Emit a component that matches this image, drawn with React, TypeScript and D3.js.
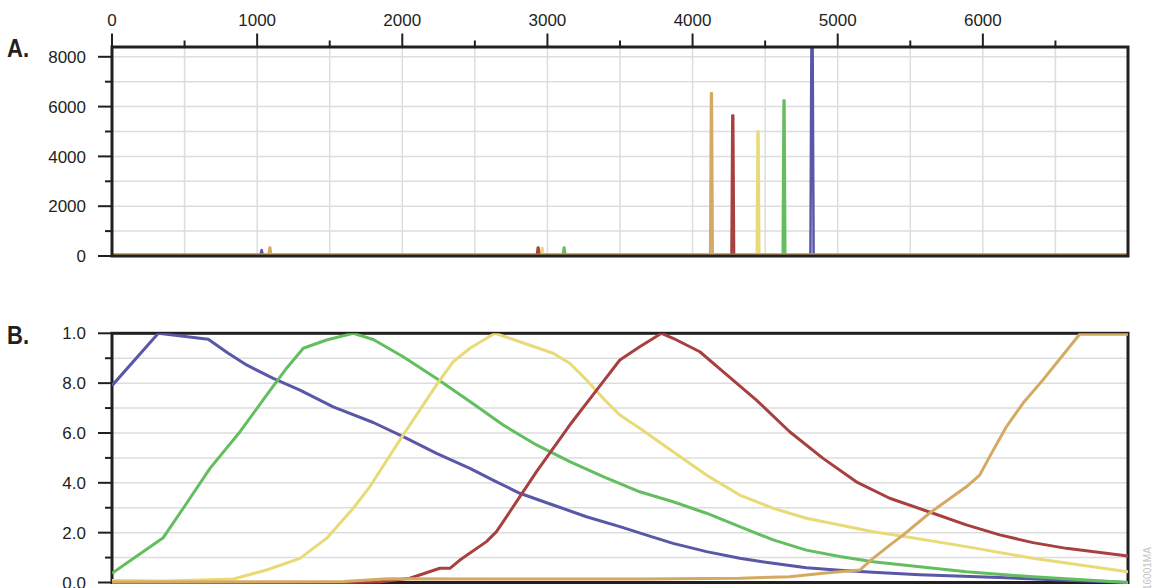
import React from 'react';
import * as d3 from 'd3';

// ---- data ----
const xTicks = [0, 1000, 2000, 3000, 4000, 5000, 6000];
const xMinorTicks = [500, 1500, 2500, 3500, 4500, 5500, 6500];
const yATicks = [0, 2000, 4000, 6000, 8000];
const yAMinorTicks = [1000, 3000, 5000, 7000];
const yBTicks = [0, 0.2, 0.4, 0.6, 0.8, 1.0];
const yBTickLabels = ['0.0', '2.0', '4.0', '6.0', '8.0', '1.0'];
const yBMinorTicks = [0.1, 0.3, 0.5, 0.7, 0.9];

// panel A: peaks (x, signal)
const peakBlue = [[0, 0], [1022, 0], [1031, 200], [1040, 0], [4812, 0], [4819, 8800], [4827, 8800], [4834, 0], [7000, 0]];
const peakGreen = [[0, 0], [3106, 0], [3113, 300], [3117, 300], [3124, 0], [4621, 0], [4627, 6200], [4633, 6200], [4639, 0], [7000, 0]];
const peakYellow = [[0, 0], [2955, 0], [2962, 280], [2966, 280], [2973, 0], [4442, 0], [4448, 4960], [4454, 4960], [4460, 0], [7000, 0]];
const peakRed = [[0, 0], [2927, 0], [2934, 300], [2938, 300], [2945, 0], [4268, 0], [4274, 5600], [4280, 5600], [4286, 0], [7000, 0]];
const peakTan = [[0, 0], [1079, 0], [1086, 300], [1090, 300], [1097, 0], [4121, 0], [4127, 6500], [4133, 6500], [4139, 0], [7000, 0]];

// panel B: normalised curves (x, value)
const curveBlue = [[0, 0.79], [319, 1.0], [663, 0.976], [801, 0.92], [927, 0.873], [1111, 0.819], [1295, 0.772], [1524, 0.705], [1800, 0.642], [2006, 0.585], [2236, 0.518], [2466, 0.458], [2649, 0.404], [2810, 0.358], [3039, 0.311], [3269, 0.264], [3499, 0.224], [3705, 0.186], [3866, 0.157], [4096, 0.124], [4325, 0.097], [4555, 0.077], [4784, 0.059], [5014, 0.049], [5243, 0.041], [5565, 0.031], [6116, 0.02], [6575, 0.009], [7000, 0.0]];
const curveGreen = [[0, 0.037], [353, 0.18], [491, 0.298], [675, 0.458], [882, 0.605], [1065, 0.752], [1203, 0.86], [1318, 0.94], [1478, 0.973], [1662, 1.0], [1800, 0.975], [2006, 0.906], [2236, 0.819], [2466, 0.726], [2695, 0.632], [2925, 0.552], [3154, 0.485], [3384, 0.425], [3636, 0.364], [3866, 0.324], [4096, 0.278], [4325, 0.224], [4555, 0.171], [4784, 0.13], [5014, 0.104], [5243, 0.083], [5565, 0.063], [5886, 0.043], [6345, 0.023], [7000, 0.0]];
const curveYellow = [[0, 0.008], [377, 0.006], [835, 0.014], [1065, 0.05], [1295, 0.097], [1478, 0.177], [1662, 0.298], [1777, 0.385], [2006, 0.592], [2236, 0.793], [2351, 0.886], [2466, 0.94], [2638, 1.0], [2810, 0.966], [3039, 0.92], [3154, 0.88], [3269, 0.813], [3384, 0.739], [3499, 0.672], [3636, 0.619], [3866, 0.525], [4096, 0.431], [4325, 0.351], [4555, 0.298], [4784, 0.258], [5014, 0.231], [5243, 0.204], [5427, 0.188], [5886, 0.144], [6345, 0.097], [7000, 0.043]];
const curveRed = [[0, 0], [1600, 0], [1850, 0.003], [2052, 0.017], [2259, 0.057], [2328, 0.057], [2397, 0.09], [2580, 0.164], [2649, 0.204], [2741, 0.284], [2925, 0.445], [3154, 0.632], [3384, 0.806], [3499, 0.893], [3636, 0.946], [3786, 1.0], [3866, 0.98], [4050, 0.926], [4210, 0.846], [4440, 0.732], [4669, 0.605], [4899, 0.498], [5128, 0.404], [5358, 0.338], [5657, 0.278], [5886, 0.231], [6116, 0.191], [6345, 0.16], [6575, 0.137], [7000, 0.106]];
const curveTan = [[0, 0.002], [1600, 0.004], [1900, 0.015], [3636, 0.014], [4325, 0.017], [4669, 0.023], [4899, 0.037], [5152, 0.05], [5243, 0.097], [5381, 0.16], [5450, 0.19], [5634, 0.279], [5886, 0.384], [5978, 0.431], [6047, 0.505], [6162, 0.625], [6276, 0.719], [6414, 0.813], [6667, 0.996], [7000, 0.996]];

const colors = { blue: '#5a57a8', green: '#63be5f', yellow: '#e9da78', red: '#a8403f', tan: '#d4aa63' };
const seriesA = [
  { name: 'blue', pts: peakBlue },
  { name: 'green', pts: peakGreen },
  { name: 'yellow', pts: peakYellow },
  { name: 'red', pts: peakRed },
  { name: 'tan', pts: peakTan },
];
const seriesB = [
  { name: 'blue', pts: curveBlue },
  { name: 'green', pts: curveGreen },
  { name: 'yellow', pts: curveYellow },
  { name: 'red', pts: curveRed },
  { name: 'tan', pts: curveTan },
];

const W = 1152, H = 588;
const left = 112, right = 1128;
const aTop = 47, aBottom = 256;
const bTop = 333.3, bBottom = 582.5;
const frame = '#231f20';
const grid = '#dddddd';
const font = '"Liberation Sans", Arial, sans-serif';

export default function App() {
  const x = d3.scaleLinear().domain([0, 7000]).range([left, right]);
  const yA = d3.scaleLinear().domain([0, 8000]).range([aBottom, 56.8]);
  const yB = d3.scaleLinear().domain([0, 1]).range([bBottom, bTop]);

  const lineA = d3.line<number[]>().x(d => x(d[0])).y(d => yA(d[1]));
  const lineB = d3.line<number[]>().x(d => x(d[0])).y(d => yB(d[1]));

  const gridAx = [...xMinorTicks, ...xTicks.slice(1)];
  const gridAy = [...yAMinorTicks, ...yATicks.slice(1)];
  const gridBy = [...yBMinorTicks, ...yBTicks.slice(1, -1)];

  return (
    <svg width={W} height={H} style={{ position: 'absolute', left: 0, top: 0, background: '#fff' }}
      fontFamily={font}>
      <defs>
        <clipPath id="clipA"><rect x={left} y={aTop} width={right - left} height={aBottom - aTop + 2} /></clipPath>
        <clipPath id="clipB"><rect x={left} y={bTop} width={right - left} height={bBottom - bTop + 2} /></clipPath>
      </defs>

      {/* top x axis */}
      {xTicks.map(t => (
        <g key={'xt' + t}>
          <line x1={x(t)} x2={x(t)} y1={33.5} y2={aTop} stroke={frame} strokeWidth={2} />
          <text x={x(t)} y={26} textAnchor="middle" fontSize={17} fill="#231f20">{t}</text>
        </g>
      ))}
      {xMinorTicks.map(t => (
        <line key={'xm' + t} x1={x(t)} x2={x(t)} y1={40.5} y2={aTop} stroke={frame} strokeWidth={2} />
      ))}

      {/* panel A grid */}
      {gridAx.map(t => (
        <line key={'gax' + t} x1={x(t)} x2={x(t)} y1={aTop} y2={aBottom} stroke={grid} strokeWidth={1.5} />
      ))}
      {gridAy.map(t => (
        <line key={'gay' + t} x1={left} x2={right} y1={yA(t)} y2={yA(t)} stroke={grid} strokeWidth={1.5} />
      ))}

      {/* panel A y axis */}
      {yATicks.map(t => (
        <g key={'ya' + t}>
          <line x1={98} x2={left} y1={yA(t)} y2={yA(t)} stroke={frame} strokeWidth={2} />
          <text x={86} y={yA(t)} dy="0.36em" textAnchor="end" fontSize={17} fill="#231f20">{t}</text>
        </g>
      ))}
      {yAMinorTicks.map(t => (
        <line key={'yam' + t} x1={105} x2={left} y1={yA(t)} y2={yA(t)} stroke={frame} strokeWidth={2} />
      ))}

      <g clipPath="url(#clipA)">
        {seriesA.map(s => (
          <path key={'a' + s.name} d={lineA(s.pts) || ''} fill="none" stroke={(colors as any)[s.name]}
            strokeWidth={2.5} strokeLinejoin="round" transform="translate(0,-1)" />
        ))}
      </g>
      <rect x={left} y={aTop} width={right - left} height={aBottom - aTop} fill="none" stroke={frame} strokeWidth={3} />

      <text x={7} y={57} fontSize={26} fontWeight="bold" fontFamily='"Liberation Sans Narrow", "Liberation Sans", Arial'
        fill="#231f20" textLength={22} lengthAdjust="spacingAndGlyphs">A.</text>

      {/* panel B grid */}
      {gridBy.map(t => (
        <line key={'gby' + t} x1={left} x2={right} y1={yB(t)} y2={yB(t)} stroke={grid} strokeWidth={1.5} />
      ))}

      {/* panel B y axis */}
      {yBTicks.map((t, i) => (
        <g key={'yb' + t}>
          <line x1={98} x2={left} y1={yB(t)} y2={yB(t)} stroke={frame} strokeWidth={2} />
          <text x={86} y={yB(t)} dy="0.36em" textAnchor="end" fontSize={17} fill="#231f20">{yBTickLabels[i]}</text>
        </g>
      ))}
      {yBMinorTicks.map(t => (
        <line key={'ybm' + t} x1={105} x2={left} y1={yB(t)} y2={yB(t)} stroke={frame} strokeWidth={2} />
      ))}

      <rect x={left} y={bTop} width={right - left} height={bBottom - bTop} fill="none" stroke={frame} strokeWidth={3} />

      <g clipPath="url(#clipB)">
        {seriesB.map(s => (
          <path key={'b' + s.name} d={lineB(s.pts) || ''} fill="none" stroke={(colors as any)[s.name]}
            strokeWidth={3} strokeLinejoin="round" />
        ))}
      </g>

      <text x={7} y={344} fontSize={26} fontWeight="bold" fontFamily='"Liberation Sans Narrow", "Liberation Sans", Arial'
        fill="#231f20" textLength={22} lengthAdjust="spacingAndGlyphs">B.</text>

      <text transform="translate(1151, 590) rotate(-90)" fontSize={10} fill="#c4c4c4">16001MA</text>
    </svg>
  );
}
